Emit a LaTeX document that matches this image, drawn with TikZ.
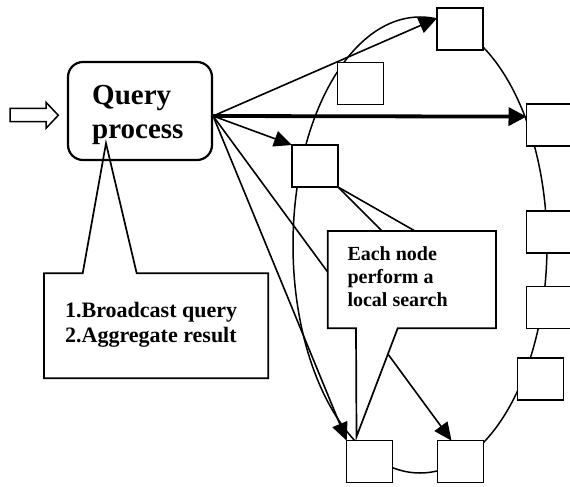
\documentclass[tikz,border=0pt]{standalone}
\usepackage{fontspec}
\setmainfont{Liberation Serif}
\usetikzlibrary{arrows.meta,positioning,shapes.geometric,calc,backgrounds}

\begin{document}
\begin{tikzpicture}[x=1pt,y=-1pt,
  peer/.style={draw,fill=white,line width=1.4pt,minimum width=46pt,minimum height=42pt,inner sep=0pt,outer sep=0pt},
  arr/.style={-{Triangle[length=18pt,width=16pt]},line width=1.6pt},
  fat/.style={-{Triangle[length=18pt,width=18pt]},line width=3.8pt},
  bubble/.style={draw,fill=white,line width=1.7pt},
  note/.style={anchor=north west,align=left,inner sep=0pt,font=#1\bfseries}]
\useasboundingbox (0,0) rectangle (570,487);
% overlay ring and its peers
\node[draw,ellipse,line width=1.5pt,minimum width=254pt,minimum height=456pt,inner sep=0pt] (ring) at (420,245) {};
\node[peer] (pa) at (460,29.2) {};
\node[peer] (pb) at (360.5,83.3) {};
\node[peer] (pc) at (549.5,125) {};
\node[peer] (pd) at (315,166) {};
\node[peer] (pe) at (549.5,232) {};
\node[peer] (pf) at (549.5,307.5) {};
\node[peer] (pg) at (540.3,379) {};
\node[peer] (ph) at (369.7,461.7) {};
\node[peer] (pi) at (460.3,461.7) {};
% query side
\draw[bubble] (44,273.3) -- (82.7,273.3) -- (106,143.3) -- (136.7,273.3) -- (268.3,273.3) -- (268.3,378.3) -- (44,378.3) -- cycle;
\node[draw,rounded corners=15pt,line width=2.2pt,minimum width=144pt,minimum height=98pt] (query) at (140,111) {};
\node[note={\fontsize{29pt}{34pt}\selectfont}] (qtxt) at (92,85.5) {Query\\process};
\node[note={\fontsize{22pt}{25pt}\selectfont}] (steps) at (65,302.5) {1.Broadcast query\\2.Aggregate result};
\draw[line width=1.5pt] (10,108.3) -- (46,108.3) -- (46,102.3) -- (58.3,115.3) -- (46,128.3) -- (46,121.7) -- (10,121.7) -- cycle;
% local search callout
\draw[bubble] (327.7,231) -- (496,231) -- (496,328.3) -- (397.7,328.3) -- (356.5,436.7) -- (356,328.3) -- (327.7,328.3) -- cycle;
\coordinate (hid1) at (382,231);
\coordinate (hid2) at (415,231);
\node[note={\fontsize{20pt}{23pt}\selectfont}] (local) at (347.3,246.5) {Each node\\perform a\\local search};
% connectors behind everything
\begin{scope}[on background layer]
\coordinate (src) at ([yshift=-5pt]query.east);
\draw[arr] (src) -- ($(pa.north west)!0.24!(pa.south west)$);
\draw[fat] (src) -- ($(pc.north west)!0.3!(pc.south west)$);
\draw[arr] (src) -- (pd.north west);
\draw[arr] (src) -- ($(pi.north west)!0.31!(pi.north east)$);
\draw[arr] (src) -- (ph.north west);
\draw[line width=1.6pt] (pd.south east) -- (hid1);
\draw[line width=1.6pt] (pd.south east) -- (hid2);
\end{scope}
\end{tikzpicture}
\end{document}
